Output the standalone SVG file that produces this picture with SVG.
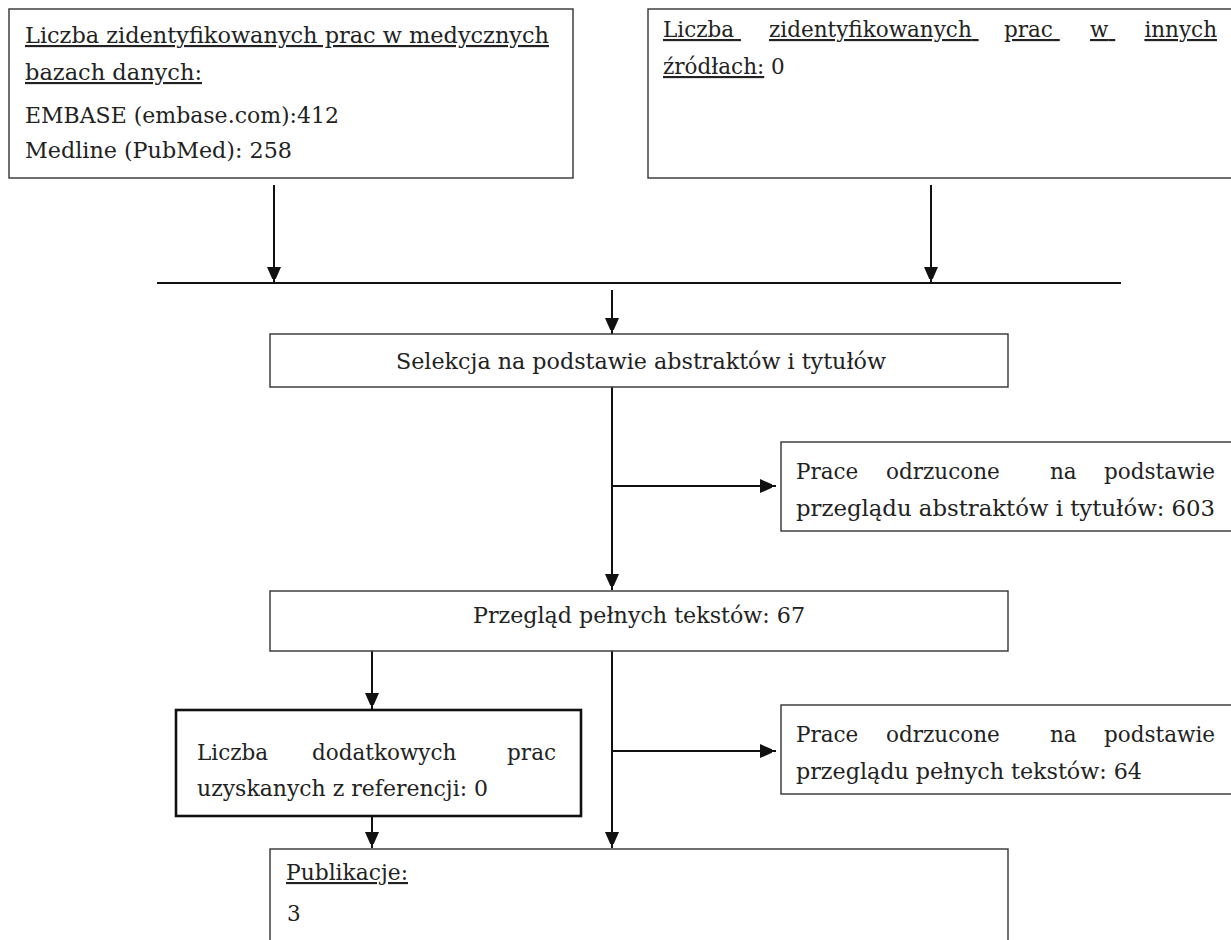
<svg xmlns="http://www.w3.org/2000/svg" width="1231" height="940" viewBox="0 0 1231 940">
<defs>
<marker id="ahv" markerWidth="12" markerHeight="14" refX="16" refY="7" orient="auto" markerUnits="userSpaceOnUse">
<path d="M0,0 L16,7 L0,14 Z" fill="#111"/>
</marker>
<style>
.box{fill:#fff;stroke:#333;stroke-width:1.4}
.bold{stroke:#111;stroke-width:2.6}
.t{font-family:"DejaVu Serif","Liberation Serif",serif;font-size:21.5px;fill:#222}
.u{text-decoration:underline}
.c{stroke:#111;stroke-width:2;fill:none}
</style>
</defs>
<rect width="1231" height="940" fill="#fff"/>

<g id="connectors">
<line class="c" x1="274" y1="185" x2="274" y2="283" marker-end="url(#ahv)"/>
<line class="c" x1="931" y1="185" x2="931" y2="283" marker-end="url(#ahv)"/>
<line class="c" x1="157" y1="283" x2="1121" y2="283" stroke-width="1.5"/>
<line class="c" x1="612" y1="290" x2="612" y2="334" marker-end="url(#ahv)"/>
<line class="c" x1="612" y1="386" x2="612" y2="590" marker-end="url(#ahv)"/>
<line class="c" x1="612" y1="486" x2="776" y2="486" marker-end="url(#ahv)"/>
<line class="c" x1="372" y1="651" x2="372" y2="709" marker-end="url(#ahv)"/>
<line class="c" x1="612" y1="651" x2="612" y2="848" marker-end="url(#ahv)"/>
<line class="c" x1="612" y1="751" x2="776" y2="751" marker-end="url(#ahv)"/>
<line class="c" x1="372" y1="816" x2="372" y2="848" marker-end="url(#ahv)"/>
</g>

<g id="node-bazy">
<rect class="box" x="9" y="9" width="564" height="169"/>
<text class="t u" x="25" y="43" textLength="524" lengthAdjust="spacingAndGlyphs">Liczba zidentyfikowanych prac w medycznych</text>
<text class="t u" x="25" y="80" textLength="177" lengthAdjust="spacingAndGlyphs">bazach danych:</text>
<text class="t" x="25" y="123" textLength="314" lengthAdjust="spacingAndGlyphs">EMBASE (embase.com):412</text>
<text class="t" x="25" y="158" textLength="267" lengthAdjust="spacingAndGlyphs">Medline (PubMed): 258</text>
</g>

<g id="node-inne">
<rect class="box" x="648" y="9" width="600" height="169"/>
<text class="t u" y="37">
<tspan x="663">Liczba</tspan>
<tspan x="769">zidentyfikowanych</tspan>
<tspan x="1004">prac</tspan>
<tspan x="1090">w</tspan>
<tspan x="1217" text-anchor="end">innych</tspan>
</text>
<text class="t" x="663" y="74"><tspan class="u">źródłach:</tspan> 0</text>
</g>

<g id="node-selekcja">
<rect class="box" x="270" y="334" width="738" height="53"/>
<text class="t" x="396" y="369" textLength="490" lengthAdjust="spacingAndGlyphs">Selekcja na podstawie abstraktów i tytułów</text>
</g>

<g id="node-odrzucone1">
<rect class="box" x="781" y="442" width="465" height="89"/>
<text class="t" y="479">
<tspan x="796">Prace</tspan>
<tspan x="886">odrzucone</tspan>
<tspan x="1050">na</tspan>
<tspan x="1215" text-anchor="end">podstawie</tspan>
</text>
<text class="t" x="796" y="516" textLength="419" lengthAdjust="spacingAndGlyphs">przeglądu abstraktów i tytułów: 603</text>
</g>

<g id="node-przeglad">
<rect class="box" x="270" y="591" width="738" height="60"/>
<text class="t" x="473" y="623" textLength="332" lengthAdjust="spacingAndGlyphs">Przegląd pełnych tekstów: 67</text>
</g>

<g id="node-dodatkowe">
<rect class="box bold" x="176" y="710" width="405" height="106"/>
<text class="t" y="760">
<tspan x="197">Liczba</tspan>
<tspan x="312">dodatkowych</tspan>
<tspan x="556" text-anchor="end">prac</tspan>
</text>
<text class="t" x="197" y="796" textLength="291" lengthAdjust="spacingAndGlyphs">uzyskanych z referencji: 0</text>
</g>

<g id="node-odrzucone2">
<rect class="box" x="781" y="705" width="465" height="89"/>
<text class="t" y="742">
<tspan x="796">Prace</tspan>
<tspan x="886">odrzucone</tspan>
<tspan x="1050">na</tspan>
<tspan x="1215" text-anchor="end">podstawie</tspan>
</text>
<text class="t" x="796" y="779" textLength="346" lengthAdjust="spacingAndGlyphs">przeglądu pełnych tekstów: 64</text>
</g>

<g id="node-publikacje">
<rect class="box" x="270" y="849" width="738" height="110"/>
<text class="t u" x="286" y="880" textLength="122" lengthAdjust="spacingAndGlyphs">Publikacje:</text>
<text class="t" x="287" y="921">3</text>
</g>
</svg>
